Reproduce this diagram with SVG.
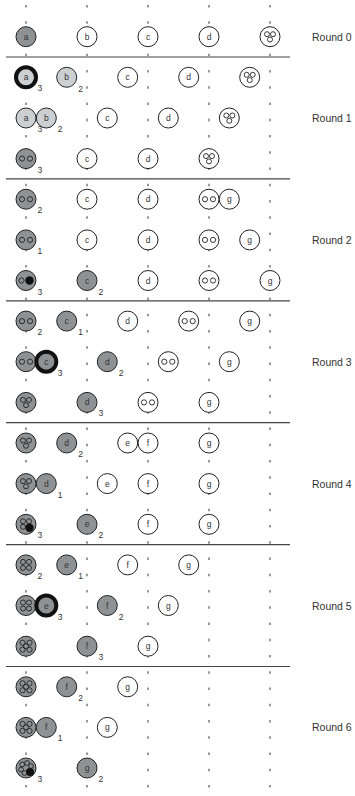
<svg xmlns="http://www.w3.org/2000/svg" width="355" height="796" viewBox="0 0 355 796">
<style>
.bg{fill:#fff}
.v{stroke:#333;stroke-width:1;stroke-dasharray:2.5 13.75;fill:none}
.h{stroke:#444;stroke-width:1.2}
.n{stroke:#222;stroke-width:1}
.th{stroke:#111;stroke-width:4}
.w{fill:#fff}
.dk{fill:#8e9295}
.lt{fill:#cdd0d3}
.s{fill:none;stroke:#222;stroke-width:0.9}
.bk{fill:#111}
.t{font-family:"Liberation Sans",Arial,sans-serif;font-size:8.5px;fill:#333;text-anchor:middle;dominant-baseline:central}
.c{font-family:"Liberation Sans",Arial,sans-serif;font-size:8.5px;fill:#333}
.r{font-family:"Liberation Sans",Arial,sans-serif;font-size:10.5px;fill:#333;dominant-baseline:central}
</style>
<defs>
<g id="pair"><circle class="s" cx="-4" cy="0" r="2.6"/><circle class="s" cx="4" cy="0" r="2.6"/></g>
<g id="pairB"><circle class="s" cx="-4.5" cy="0" r="2.6"/><circle class="bk" cx="3.5" cy="0" r="4.2"/></g>
<g id="tri"><circle class="s" cx="-3" cy="-2.5" r="2.5"/><circle class="s" cx="3" cy="-2.5" r="2.5"/><circle class="s" cx="0" cy="2.8" r="2.5"/></g>
<g id="triB"><circle class="s" cx="-3" cy="-3" r="2.5"/><circle class="s" cx="3" cy="-3" r="2.5"/><circle class="s" cx="-3" cy="2.5" r="2.5"/><circle class="bk" cx="3.5" cy="3.5" r="4.2"/></g>
<g id="quad"><circle class="s" cx="-3" cy="-3" r="2.5"/><circle class="s" cx="3" cy="-3" r="2.5"/><circle class="s" cx="-3" cy="3" r="2.5"/><circle class="s" cx="3" cy="3" r="2.5"/></g>
<g id="five"><circle class="s" cx="-3.5" cy="-3.5" r="2.6"/><circle class="s" cx="3.5" cy="-3.5" r="2.6"/><circle class="s" cx="-3.5" cy="3.5" r="2.6"/><circle class="s" cx="3.5" cy="3.5" r="2.6"/><circle class="s" cx="0" cy="0" r="2.6"/></g>
<g id="fiveB"><circle class="s" cx="-3.8" cy="-3.5" r="2.4"/><circle class="s" cx="1" cy="-5" r="2.4"/><circle class="s" cx="5" cy="-2" r="2.4"/><circle class="s" cx="-5" cy="1.5" r="2.4"/><circle class="s" cx="-1.5" cy="5" r="2.4"/><circle class="bk" cx="4" cy="4" r="4"/></g>
</defs>
<rect class="bg" x="0" y="0" width="355" height="796"/>
<g id="guides">
<line class="v" x1="26" y1="5" x2="26" y2="796"/>
<line class="v" x1="87" y1="5" x2="87" y2="796"/>
<line class="v" x1="148" y1="5" x2="148" y2="796"/>
<line class="v" x1="209" y1="5" x2="209" y2="796"/>
<line class="v" x1="270" y1="5" x2="270" y2="796"/>
</g>
<g id="separators">
<line class="h" x1="6" y1="57" x2="290" y2="57"/>
<line class="h" x1="6" y1="178.9" x2="290" y2="178.9"/>
<line class="h" x1="6" y1="300.8" x2="290" y2="300.8"/>
<line class="h" x1="6" y1="422.7" x2="290" y2="422.7"/>
<line class="h" x1="6" y1="544.6" x2="290" y2="544.6"/>
<line class="h" x1="6" y1="666.5" x2="290" y2="666.5"/>
</g>
<g id="round-labels">
<text class="r" x="312" y="36.7">Round 0</text>
<text class="r" x="312" y="118">Round 1</text>
<text class="r" x="312" y="239.9">Round 2</text>
<text class="r" x="312" y="361.7">Round 3</text>
<text class="r" x="312" y="483.6">Round 4</text>
<text class="r" x="312" y="605.5">Round 5</text>
<text class="r" x="312" y="727.4">Round 6</text>
</g>
<!-- Round 0 -->
<g id="r0-a"><circle class="n dk" cx="26" cy="36.7" r="10"/><text class="t" x="26" y="36.7">a</text></g>
<g id="r0-b"><circle class="n w" cx="87" cy="36.7" r="10"/><text class="t" x="87" y="36.7">b</text></g>
<g id="r0-c"><circle class="n w" cx="148" cy="36.7" r="10"/><text class="t" x="148" y="36.7">c</text></g>
<g id="r0-d"><circle class="n w" cx="209" cy="36.7" r="10"/><text class="t" x="209" y="36.7">d</text></g>
<g id="r0-e"><circle class="n w" cx="270" cy="36.7" r="10"/><use href="#tri" x="270" y="36.7"/></g>
<!-- Round 1 row a -->
<g id="r1a-a"><circle class="th lt" cx="26" cy="77.3" r="10"/><text class="t" x="26" y="77.3">a</text><text class="c" x="37.5" y="91.3">3</text></g>
<g id="r1a-b"><circle class="n lt" cx="66.7" cy="77.3" r="10"/><text class="t" x="66.7" y="77.3">b</text><text class="c" x="78.2" y="91.8">2</text></g>
<g id="r1a-c"><circle class="n w" cx="127.7" cy="77.3" r="10"/><text class="t" x="127.7" y="77.3">c</text></g>
<g id="r1a-d"><circle class="n w" cx="188.7" cy="77.3" r="10"/><text class="t" x="188.7" y="77.3">d</text></g>
<g id="r1a-e"><circle class="n w" cx="249.7" cy="77.3" r="10"/><use href="#tri" x="249.7" y="77.3"/></g>
<!-- Round 1 row b -->
<g id="r1b-a"><circle class="n lt" cx="26" cy="118" r="10"/><text class="t" x="26" y="118">a</text><text class="c" x="37.5" y="132">3</text></g>
<g id="r1b-b"><circle class="n lt" cx="46.3" cy="118" r="10"/><text class="t" x="46.3" y="118">b</text><text class="c" x="57.8" y="132">2</text></g>
<g id="r1b-c"><circle class="n w" cx="107.3" cy="118" r="10"/><text class="t" x="107.3" y="118">c</text></g>
<g id="r1b-d"><circle class="n w" cx="168.3" cy="118" r="10"/><text class="t" x="168.3" y="118">d</text></g>
<g id="r1b-e"><circle class="n w" cx="229.3" cy="118" r="10"/><use href="#tri" x="229.3" y="118"/></g>
<!-- Round 1 row c -->
<g id="r1c-ab"><circle class="n dk" cx="26" cy="158.6" r="10"/><use href="#pair" x="26" y="158.6"/><text class="c" x="37.5" y="172.6">3</text></g>
<g id="r1c-c"><circle class="n w" cx="87" cy="158.6" r="10"/><text class="t" x="87" y="158.6">c</text></g>
<g id="r1c-d"><circle class="n w" cx="148" cy="158.6" r="10"/><text class="t" x="148" y="158.6">d</text></g>
<g id="r1c-e"><circle class="n w" cx="209" cy="158.6" r="10"/><use href="#tri" x="209" y="158.6"/></g>
<!-- Round 2 row a -->
<g id="r2a-ab"><circle class="n dk" cx="26" cy="199.2" r="10"/><use href="#pair" x="26" y="199.2"/><text class="c" x="37.5" y="213.2">2</text></g>
<g id="r2a-c"><circle class="n w" cx="87" cy="199.2" r="10"/><text class="t" x="87" y="199.2">c</text></g>
<g id="r2a-d"><circle class="n w" cx="148" cy="199.2" r="10"/><text class="t" x="148" y="199.2">d</text></g>
<g id="r2a-e"><circle class="n w" cx="209" cy="199.2" r="10"/><use href="#pair" x="209" y="199.2"/></g>
<g id="r2a-g"><circle class="n w" cx="229.3" cy="199.2" r="10"/><text class="t" x="229.3" y="199.2">g</text></g>
<!-- Round 2 row b -->
<g id="r2b-ab"><circle class="n dk" cx="26" cy="239.9" r="10"/><use href="#pair" x="26" y="239.9"/><text class="c" x="37.5" y="253.9">1</text></g>
<g id="r2b-c"><circle class="n w" cx="87" cy="239.9" r="10"/><text class="t" x="87" y="239.9">c</text></g>
<g id="r2b-d"><circle class="n w" cx="148" cy="239.9" r="10"/><text class="t" x="148" y="239.9">d</text></g>
<g id="r2b-e"><circle class="n w" cx="209" cy="239.9" r="10"/><use href="#pair" x="209" y="239.9"/></g>
<g id="r2b-g"><circle class="n w" cx="249.7" cy="239.9" r="10"/><text class="t" x="249.7" y="239.9">g</text></g>
<!-- Round 2 row c -->
<g id="r2c-ab"><circle class="n dk" cx="26" cy="280.5" r="10"/><use href="#pairB" x="26" y="280.5"/><text class="c" x="37.5" y="294.5">3</text></g>
<g id="r2c-c"><circle class="n dk" cx="87" cy="280.5" r="10"/><text class="t" x="87" y="280.5">c</text><text class="c" x="98.5" y="294.5">2</text></g>
<g id="r2c-d"><circle class="n w" cx="148" cy="280.5" r="10"/><text class="t" x="148" y="280.5">d</text></g>
<g id="r2c-e"><circle class="n w" cx="209" cy="280.5" r="10"/><use href="#pair" x="209" y="280.5"/></g>
<g id="r2c-g"><circle class="n w" cx="270" cy="280.5" r="10"/><text class="t" x="270" y="280.5">g</text></g>
<!-- Round 3 row a -->
<g id="r3a-abc"><circle class="n dk" cx="26" cy="321.1" r="10"/><use href="#pair" x="26" y="321.1"/><text class="c" x="37.5" y="335.1">2</text></g>
<g id="r3a-c"><circle class="n dk" cx="66.7" cy="321.1" r="10"/><text class="t" x="66.7" y="321.1">c</text><text class="c" x="78.2" y="335.1">1</text></g>
<g id="r3a-d"><circle class="n w" cx="127.7" cy="321.1" r="10"/><text class="t" x="127.7" y="321.1">d</text></g>
<g id="r3a-e"><circle class="n w" cx="188.7" cy="321.1" r="10"/><use href="#pair" x="188.7" y="321.1"/></g>
<g id="r3a-g"><circle class="n w" cx="249.7" cy="321.1" r="10"/><text class="t" x="249.7" y="321.1">g</text></g>
<!-- Round 3 row b -->
<g id="r3b-ab"><circle class="n dk" cx="26" cy="361.7" r="10"/><use href="#pair" x="26" y="361.7"/></g>
<g id="r3b-c"><circle class="th dk" cx="46.3" cy="361.7" r="10"/><text class="t" x="46.3" y="361.7">c</text><text class="c" x="57.8" y="375.7">3</text></g>
<g id="r3b-d"><circle class="n dk" cx="107.3" cy="361.7" r="10"/><text class="t" x="107.3" y="361.7">d</text><text class="c" x="118.8" y="375.7">2</text></g>
<g id="r3b-e"><circle class="n w" cx="168.3" cy="361.7" r="10"/><use href="#pair" x="168.3" y="361.7"/></g>
<g id="r3b-g"><circle class="n w" cx="229.3" cy="361.7" r="10"/><text class="t" x="229.3" y="361.7">g</text></g>
<!-- Round 3 row c -->
<g id="r3c-abc"><circle class="n dk" cx="26" cy="402.4" r="10"/><use href="#tri" x="26" y="402.4"/></g>
<g id="r3c-d"><circle class="n dk" cx="87" cy="402.4" r="10"/><text class="t" x="87" y="402.4">d</text><text class="c" x="98.5" y="416.4">3</text></g>
<g id="r3c-e"><circle class="n w" cx="148" cy="402.4" r="10"/><use href="#pair" x="148" y="402.4"/></g>
<g id="r3c-g"><circle class="n w" cx="209" cy="402.4" r="10"/><text class="t" x="209" y="402.4">g</text></g>
<!-- Round 4 row a -->
<g id="r4a-abc"><circle class="n dk" cx="26" cy="443" r="10"/><use href="#tri" x="26" y="443"/></g>
<g id="r4a-d"><circle class="n dk" cx="66.7" cy="443" r="10"/><text class="t" x="66.7" y="443">d</text><text class="c" x="78.2" y="457">2</text></g>
<g id="r4a-e"><circle class="n w" cx="127.7" cy="443" r="10"/><text class="t" x="127.7" y="443">e</text></g>
<g id="r4a-f"><circle class="n w" cx="148" cy="443" r="10"/><text class="t" x="148" y="443">f</text></g>
<g id="r4a-g"><circle class="n w" cx="209" cy="443" r="10"/><text class="t" x="209" y="443">g</text></g>
<!-- Round 4 row b -->
<g id="r4b-abc"><circle class="n dk" cx="26" cy="483.6" r="10"/><use href="#tri" x="26" y="483.6"/></g>
<g id="r4b-d"><circle class="n dk" cx="46.3" cy="483.6" r="10"/><text class="t" x="46.3" y="483.6">d</text><text class="c" x="57.8" y="497.6">1</text></g>
<g id="r4b-e"><circle class="n w" cx="107.3" cy="483.6" r="10"/><text class="t" x="107.3" y="483.6">e</text></g>
<g id="r4b-f"><circle class="n w" cx="148" cy="483.6" r="10"/><text class="t" x="148" y="483.6">f</text></g>
<g id="r4b-g"><circle class="n w" cx="209" cy="483.6" r="10"/><text class="t" x="209" y="483.6">g</text></g>
<!-- Round 4 row c -->
<g id="r4c-abcd"><circle class="n dk" cx="26" cy="524.3" r="10"/><use href="#triB" x="26" y="524.3"/><text class="c" x="37.5" y="538.3">3</text></g>
<g id="r4c-e"><circle class="n dk" cx="87" cy="524.3" r="10"/><text class="t" x="87" y="524.3">e</text><text class="c" x="98.5" y="538.3">2</text></g>
<g id="r4c-f"><circle class="n w" cx="148" cy="524.3" r="10"/><text class="t" x="148" y="524.3">f</text></g>
<g id="r4c-g"><circle class="n w" cx="209" cy="524.3" r="10"/><text class="t" x="209" y="524.3">g</text></g>
<!-- Round 5 row a -->
<g id="r5a-abcd"><circle class="n dk" cx="26" cy="564.9" r="10"/><use href="#quad" x="26" y="564.9"/><text class="c" x="37.5" y="578.9">2</text></g>
<g id="r5a-e"><circle class="n dk" cx="66.7" cy="564.9" r="10"/><text class="t" x="66.7" y="564.9">e</text><text class="c" x="78.2" y="578.9">1</text></g>
<g id="r5a-f"><circle class="n w" cx="127.7" cy="564.9" r="10"/><text class="t" x="127.7" y="564.9">f</text></g>
<g id="r5a-g"><circle class="n w" cx="188.7" cy="564.9" r="10"/><text class="t" x="188.7" y="564.9">g</text></g>
<!-- Round 5 row b -->
<g id="r5b-abcd"><circle class="n dk" cx="26" cy="605.5" r="10"/><use href="#quad" x="26" y="605.5"/></g>
<g id="r5b-e"><circle class="th dk" cx="46.3" cy="605.5" r="10"/><text class="t" x="46.3" y="605.5">e</text><text class="c" x="57.8" y="619.5">3</text></g>
<g id="r5b-f"><circle class="n dk" cx="107.3" cy="605.5" r="10"/><text class="t" x="107.3" y="605.5">f</text><text class="c" x="118.8" y="619.5">2</text></g>
<g id="r5b-g"><circle class="n w" cx="168.3" cy="605.5" r="10"/><text class="t" x="168.3" y="605.5">g</text></g>
<!-- Round 5 row c -->
<g id="r5c-abcde"><circle class="n dk" cx="26" cy="646.2" r="10"/><use href="#five" x="26" y="646.2"/></g>
<g id="r5c-f"><circle class="n dk" cx="87" cy="646.2" r="10"/><text class="t" x="87" y="646.2">f</text><text class="c" x="98.5" y="660.2">3</text></g>
<g id="r5c-g"><circle class="n w" cx="148" cy="646.2" r="10"/><text class="t" x="148" y="646.2">g</text></g>
<!-- Round 6 row a -->
<g id="r6a-abcde"><circle class="n dk" cx="26" cy="686.8" r="10"/><use href="#five" x="26" y="686.8"/></g>
<g id="r6a-f"><circle class="n dk" cx="66.7" cy="686.8" r="10"/><text class="t" x="66.7" y="686.8">f</text><text class="c" x="78.2" y="700.8">2</text></g>
<g id="r6a-g"><circle class="n w" cx="127.7" cy="686.8" r="10"/><text class="t" x="127.7" y="686.8">g</text></g>
<!-- Round 6 row b -->
<g id="r6b-abcde"><circle class="n dk" cx="26" cy="727.4" r="10"/><use href="#five" x="26" y="727.4"/></g>
<g id="r6b-f"><circle class="n dk" cx="46.3" cy="727.4" r="10"/><text class="t" x="46.3" y="727.4">f</text><text class="c" x="57.8" y="741.4">1</text></g>
<g id="r6b-g"><circle class="n w" cx="107.3" cy="727.4" r="10"/><text class="t" x="107.3" y="727.4">g</text></g>
<!-- Round 6 row c -->
<g id="r6c-abcdef"><circle class="n dk" cx="26" cy="768" r="10"/><use href="#fiveB" x="26" y="768"/><text class="c" x="37.5" y="782">3</text></g>
<g id="r6c-g"><circle class="n dk" cx="87" cy="768" r="10"/><text class="t" x="87" y="768">g</text><text class="c" x="98.5" y="782">2</text></g>
</svg>
